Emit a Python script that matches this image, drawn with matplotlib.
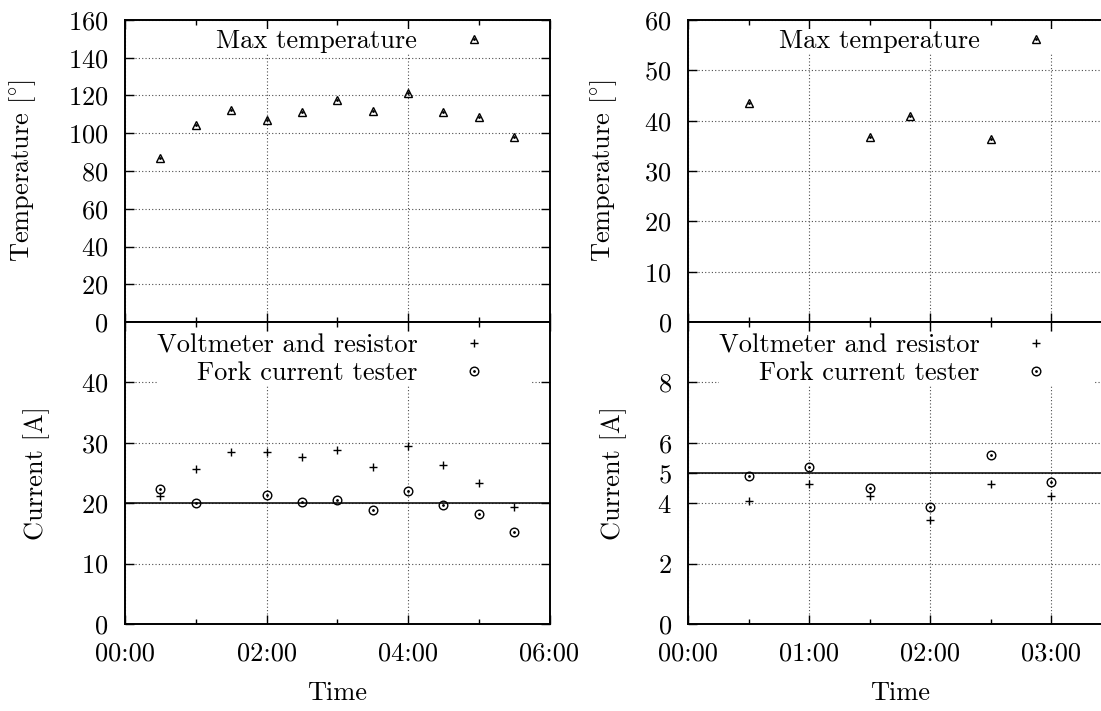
import matplotlib
matplotlib.use('Agg')
import matplotlib.pyplot as plt
from matplotlib.ticker import MultipleLocator, FuncFormatter

plt.rcParams['font.family'] = ['cmr10', 'DejaVu Serif']
plt.rcParams['mathtext.fontset'] = 'cm'
plt.rcParams['axes.formatter.use_mathtext'] = True
plt.rcParams['font.size'] = 19

# first run (left column), time in hours
left_hours = [0.5, 1.0, 1.5, 2.0, 2.5, 3.0, 3.5, 4.0, 4.5, 5.0, 5.5]
left_temp = [87, 104.5, 112.5, 107, 111, 117.5, 112, 121.5, 111, 108.5, 98]
left_volt = [21.2, 25.6, 28.4, 28.5, 27.6, 28.8, 26.0, 29.4, 26.4, 23.3, 19.4]
left_fork_hours = [0.5, 1.0, 2.0, 2.5, 3.0, 3.5, 4.0, 4.5, 5.0, 5.5]
left_fork = [22.3, 20.0, 21.4, 20.2, 20.5, 18.9, 22.1, 19.7, 18.2, 15.3]
left_nominal = 20

# second run (right column)
right_temp_hours = [0.5, 1.5, 1.83, 2.5]
right_temp = [43.6, 36.7, 41.0, 36.4]
right_hours = [0.5, 1.0, 1.5, 2.0, 2.5, 3.0]
right_volt = [4.07, 4.63, 4.24, 3.43, 4.64, 4.24]
right_fork = [4.90, 5.2, 4.49, 3.89, 5.6, 4.69]
right_nominal = 5

temp_label = r'Temperature [$\!^\circ\!$]'
curr_label = 'Current [A]'


def hhmm(v, pos):
    m = int(round(v * 60))
    return '%02d:%02d' % (m // 60, m % 60)


def style(ax, xmax, step):
    ax.set_xlim(0, xmax)
    ax.xaxis.set_major_locator(MultipleLocator(step))
    ax.xaxis.set_minor_locator(MultipleLocator(step / 2))
    ax.xaxis.set_major_formatter(FuncFormatter(hhmm))
    ax.tick_params(which='both', direction='in', top=True, right=True, width=1)
    ax.tick_params(which='major', length=6.5)
    ax.tick_params(which='minor', length=3.5)
    ax.tick_params(axis='y', pad=12)
    ax.tick_params(axis='x', pad=13)
    ax.grid(True, which='major', linestyle=(0, (1, 2)), color='0.3', lw=0.8)
    for s in ax.spines.values():
        s.set_linewidth(1.4)


def key(ax, handles, labels, top):
    # gnuplot-like key: right-aligned text, sample on the right, opaque box
    ax.legend(handles, labels, loc='upper right', bbox_to_anchor=(0.9564, top),
              markerfirst=False, frameon=True, fancybox=False, edgecolor='none',
              facecolor='white', framealpha=1, borderpad=0.0, borderaxespad=0,
              handlelength=4.3, handletextpad=0.01, labelspacing=0.16, numpoints=1)


def temp_panel(ax, x, y):
    tri, = ax.plot(x, y, '^', ls='none', mfc='none', mec='black', ms=6, mew=1.0)
    dot, = ax.plot(x, y, 'o', ls='none', color='black', ms=1.0)
    key(ax, [(tri, dot)], ['Max temperature'], 0.97)


def current_panel(ax, xv, yv, xf, yf, nominal):
    ax.axhline(nominal, color='black', lw=1.1)
    plus, = ax.plot(xv, yv, '+', ls='none', color='black', ms=6, mew=1.0)
    circ, = ax.plot(xf, yf, 'o', ls='none', mfc='none', mec='black', ms=6.2, mew=1.0)
    dot, = ax.plot(xf, yf, 'o', ls='none', color='black', ms=1.0)
    key(ax, [plus, (circ, dot)], ['Voltmeter and resistor', 'Fork current tester'], 0.962)


fig = plt.figure(figsize=(11.01, 7.11), dpi=100)

W, H = 1101.0, 711.0
top_b, bot_b, ph = (H - 322) / H, (H - 624) / H, 302 / H

# left column
ax1 = fig.add_axes([125 / W, top_b, 424.5 / W, ph])
ax2 = fig.add_axes([125 / W, bot_b, 424.5 / W, ph], sharex=ax1)
# right column (runs past the right edge of the figure)
ax3 = fig.add_axes([688.3 / W, top_b, 423.3 / W, ph])
ax4 = fig.add_axes([688.3 / W, bot_b, 423.3 / W, ph], sharex=ax3)

temp_panel(ax1, left_hours, left_temp)
current_panel(ax2, left_hours, left_volt, left_fork_hours, left_fork, left_nominal)
temp_panel(ax3, right_temp_hours, right_temp)
current_panel(ax4, right_hours, right_volt, right_hours, right_fork, right_nominal)

for ax in (ax1, ax2):
    style(ax, 6, 2)
for ax in (ax3, ax4):
    style(ax, 3.5, 1)

ax1.set_ylim(0, 160)
ax1.set_yticks(range(0, 161, 20))
ax2.set_ylim(0, 50)
ax2.set_yticks([0, 10, 20, 30, 40])
ax3.set_ylim(0, 60)
ax3.set_yticks(range(0, 61, 10))
ax4.set_ylim(0, 10)
ax4.set_yticks([0, 2, 4, 5, 6, 8])

for ax in (ax1, ax3):
    ax.tick_params(axis='x', labelbottom=False)

ax1.set_ylabel(temp_label, va='center')
ax1.yaxis.set_label_coords(-0.2415, 0.5)
ax2.set_ylabel(curr_label, va='center')
ax2.yaxis.set_label_coords(-0.208, 0.5)
ax3.set_ylabel(temp_label, va='center')
ax3.yaxis.set_label_coords(-0.199, 0.5)
ax4.set_ylabel(curr_label, va='center')
ax4.yaxis.set_label_coords(-0.176, 0.5)

for ax in (ax2, ax4):
    ax.set_xlabel('Time', va='center')
    ax.xaxis.set_label_coords(0.5, -0.228)

fig.savefig('out.png', dpi=100)
